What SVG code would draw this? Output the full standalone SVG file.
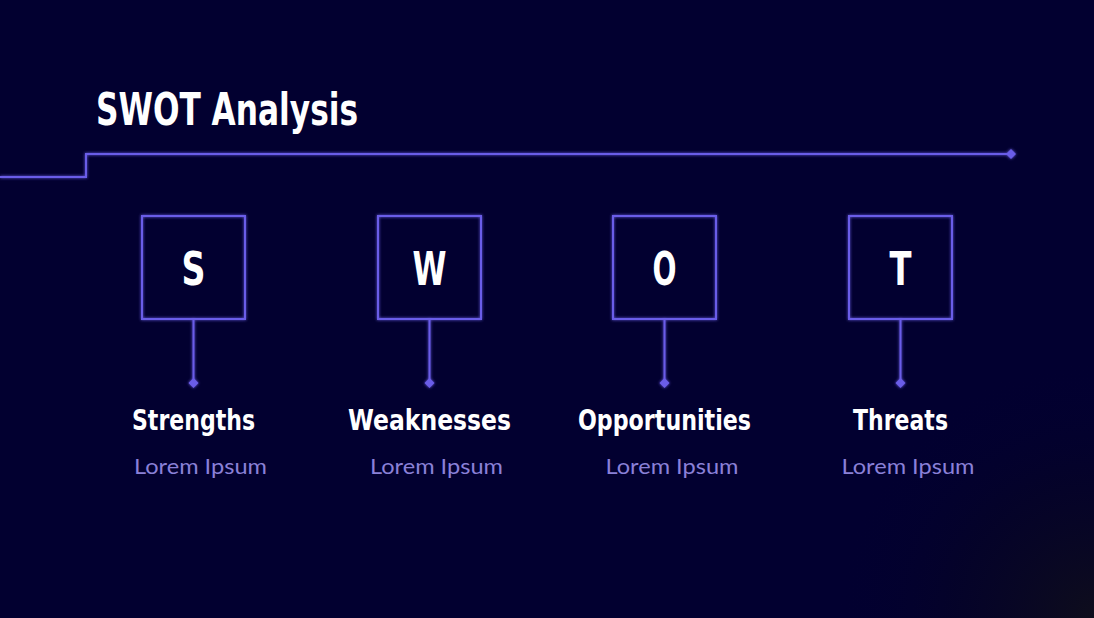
<svg xmlns="http://www.w3.org/2000/svg" width="1094" height="618" viewBox="0 0 1094 618">
  <defs>
    <radialGradient id="corner" cx="1094" cy="618" r="260" gradientUnits="userSpaceOnUse">
      <stop offset="0" stop-color="#0e0d1c"/>
      <stop offset="0.55" stop-color="#060425" stop-opacity="0.6"/>
      <stop offset="1" stop-color="#020030" stop-opacity="0"/>
    </radialGradient>
    <filter id="glow" x="-20%" y="-20%" width="140%" height="140%">
      <feGaussianBlur in="SourceGraphic" stdDeviation="1.5" result="b"/>
      <feMerge><feMergeNode in="b"/><feMergeNode in="SourceGraphic"/></feMerge>
    </filter>
    <marker id="dot" viewBox="-6 -6 12 12" markerWidth="12" markerHeight="12" refX="0" refY="0" markerUnits="userSpaceOnUse">
      <path d="M0,-5 L5,0 L0,5 L-5,0 Z" fill="#6b5de8"/>
    </marker>
  </defs>
  <style>
    .line { fill: none; stroke: #6b5de8; stroke-width: 2; }
    .box { fill: none; stroke: #6b5de8; stroke-width: 2; }
    .letter { font-family: "DejaVu Sans", sans-serif; font-weight: bold; font-stretch: condensed; font-size: 46px; fill: #ffffff; text-anchor: middle; }
    .label { font-family: "DejaVu Sans", sans-serif; font-weight: bold; font-size: 28px; fill: #ffffff; text-anchor: middle; }
    .sub { font-family: "Lato", "Noto Sans", sans-serif; font-size: 22px; fill: #8a80d8; text-anchor: middle; }
    .title { font-family: "DejaVu Sans", sans-serif; font-weight: bold; font-size: 44px; fill: #ffffff; }
  </style>

  <rect width="1094" height="618" fill="#020030"/>
  <rect width="1094" height="618" fill="url(#corner)"/>

  <text class="title" x="96" y="125" textLength="262" lengthAdjust="spacingAndGlyphs">SWOT Analysis</text>

  <g id="connectors" filter="url(#glow)">
    <path class="line" d="M0,177 H86 V154 H1011" marker-end="url(#dot)"/>
    <path class="line" d="M193.5,319 V383" marker-end="url(#dot)"/>
    <path class="line" d="M429.5,319 V383" marker-end="url(#dot)"/>
    <path class="line" d="M664.5,319 V383" marker-end="url(#dot)"/>
    <path class="line" d="M900.5,319 V383" marker-end="url(#dot)"/>
  </g>

  <g id="strengths">
    <rect class="box" x="142" y="216" width="103" height="103" filter="url(#glow)"/>
    <text class="letter" x="193.5" y="285" textLength="24" lengthAdjust="spacingAndGlyphs">S</text>
    <text class="label" x="193.5" y="430" textLength="123" lengthAdjust="spacingAndGlyphs">Strengths</text>
    <text class="sub" x="200.5" y="474" textLength="133" lengthAdjust="spacingAndGlyphs">Lorem Ipsum</text>
  </g>

  <g id="weaknesses">
    <rect class="box" x="378" y="216" width="103" height="103" filter="url(#glow)"/>
    <text class="letter" x="429.5" y="285" textLength="34" lengthAdjust="spacingAndGlyphs">W</text>
    <text class="label" x="429.5" y="430" textLength="163" lengthAdjust="spacingAndGlyphs">Weaknesses</text>
    <text class="sub" x="436.5" y="474" textLength="133" lengthAdjust="spacingAndGlyphs">Lorem Ipsum</text>
  </g>

  <g id="opportunities">
    <rect class="box" x="613" y="216" width="103" height="103" filter="url(#glow)"/>
    <text class="letter" x="664.5" y="285" textLength="24" lengthAdjust="spacingAndGlyphs">O</text>
    <text class="label" x="664.5" y="430" textLength="173" lengthAdjust="spacingAndGlyphs">Opportunities</text>
    <text class="sub" x="672" y="474" textLength="133" lengthAdjust="spacingAndGlyphs">Lorem Ipsum</text>
  </g>

  <g id="threats">
    <rect class="box" x="849" y="216" width="103" height="103" filter="url(#glow)"/>
    <text class="letter" x="900.5" y="285" textLength="22" lengthAdjust="spacingAndGlyphs">T</text>
    <text class="label" x="900.5" y="430" textLength="95" lengthAdjust="spacingAndGlyphs">Threats</text>
    <text class="sub" x="908" y="474" textLength="133" lengthAdjust="spacingAndGlyphs">Lorem Ipsum</text>
  </g>
</svg>
